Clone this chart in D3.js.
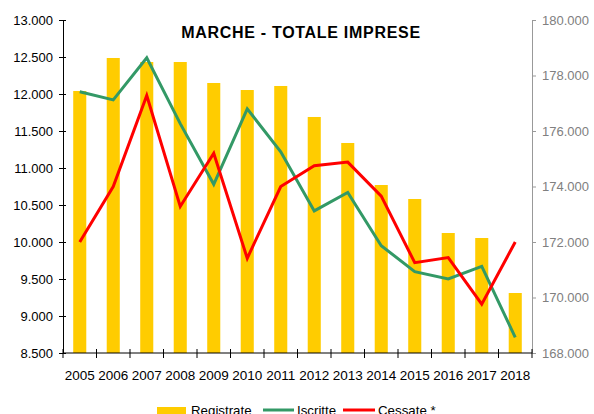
<!DOCTYPE html>
<html>
<head>
<meta charset="utf-8">
<style>
  body { margin: 0; background: #fff; }
  svg { font-family: "Liberation Sans", Arial, sans-serif; }
</style>
</head>
<body>
<svg width="594" height="414"></svg>
<script src="https://d3js.org/d3.v7.min.js"></script>
<script>

var anni = ["2005","2006","2007","2008","2009","2010","2011","2012","2013","2014","2015","2016","2017","2018"];
var registrate = [177441, 178631, 178486, 178486, 177730, 177477, 177622, 176505, 175568, 174054, 173550, 172324, 172144, 170162];
var iscritte = [12030, 11920, 12490, 11600, 10780, 11800, 11220, 10420, 10670, 9950, 9600, 9500, 9670, 8710];
var cessate = [10000, 10750, 11980, 10480, 11200, 9780, 10750, 11030, 11080, 10620, 9720, 9790, 9160, 10000];
var tickSx = [8500, 9000, 9500, 10000, 10500, 11000, 11500, 12000, 12500, 13000];
var tickDx = [168000, 170000, 172000, 174000, 176000, 178000, 180000];

var svg = d3.select("svg");
var mLeft = 63, mRight = 532, mTop = 20, mBottom = 353;

var fmt = d3.format(",.0f");
var it = function(v) { return fmt(v).replace(/,/g, "."); };

var x = d3.scaleBand().domain(anni).range([mLeft, mRight]).paddingInner(0.61).paddingOuter(0.305);
var xb = d3.scaleBand().domain(anni).range([mLeft, mRight]);
var ySx = d3.scaleLinear().domain([8500, 13000]).range([mBottom, mTop]);
var yDx = d3.scaleLinear().domain([168000, 180000]).range([mBottom, mTop]);

// barre registrate (asse destro)
svg.append("g").selectAll("rect")
  .data(registrate)
  .enter().append("rect")
    .attr("x", function(d, i) { return x(anni[i]); })
    .attr("width", x.bandwidth())
    .attr("y", function(d) { return yDx(d); })
    .attr("height", function(d) { return mBottom - yDx(d); })
    .attr("fill", "#ffcc00");

// asse sinistro
var gS = svg.append("g").attr("transform", "translate(" + mLeft + ",0)")
  .call(d3.axisLeft(ySx).tickValues(tickSx).tickFormat(it).tickSize(3).tickPadding(7).tickSizeOuter(0));
gS.selectAll("line").attr("x2", 3).attr("x1", -4).attr("stroke", "#000");
gS.select(".domain").attr("stroke", "#000");
gS.selectAll("text").attr("font-size", 13).attr("fill", "#000").attr("font-family", "Liberation Sans, Arial, sans-serif");

// asse destro
var gD = svg.append("g").attr("transform", "translate(" + mRight + ",0)")
  .call(d3.axisRight(yDx).tickValues(tickDx).tickFormat(it).tickSize(4).tickPadding(6).tickSizeOuter(0));
gD.selectAll("line").attr("stroke", "#999");
gD.select(".domain").attr("stroke", "#999");
gD.selectAll("text").attr("font-size", 13).attr("fill", "#808080").attr("font-family", "Liberation Sans, Arial, sans-serif");

// asse x
var gX = svg.append("g").attr("transform", "translate(0," + mBottom + ")");
gX.append("line").attr("x1", mLeft).attr("x2", mRight).attr("stroke", "#000");
gX.selectAll(".tk").data(anni.concat(["end"]))
  .enter().append("line")
    .attr("x1", function(d, i) { return mLeft + i * xb.step(); })
    .attr("x2", function(d, i) { return mLeft + i * xb.step(); })
    .attr("y1", -4).attr("y2", 5)
    .attr("stroke", "#000");
gX.selectAll("text").data(anni)
  .enter().append("text")
    .attr("x", function(d) { return xb(d) + xb.bandwidth() / 2; })
    .attr("y", 27)
    .attr("text-anchor", "middle")
    .attr("font-size", 13.5)
    .text(function(d) { return d; });

// linee
var line = d3.line()
  .x(function(d, i) { return xb(anni[i]) + xb.bandwidth() / 2; })
  .y(function(d) { return ySx(d); });

svg.append("path").datum(iscritte)
  .attr("d", line).attr("fill", "none").attr("stroke", "#339966").attr("stroke-width", 3);
svg.append("path").datum(cessate)
  .attr("d", line).attr("fill", "none").attr("stroke", "#ff0000").attr("stroke-width", 3);

// titolo
svg.append("text")
  .attr("x", 301).attr("y", 38)
  .attr("text-anchor", "middle")
  .attr("font-size", 16).attr("font-weight", "bold")
  .attr("letter-spacing", 0.7)
  .text("MARCHE - TOTALE IMPRESE");

// legenda
var leg = svg.append("g");
leg.append("rect").attr("x", 157).attr("y", 407).attr("width", 29).attr("height", 7).attr("fill", "#ffcc00");
leg.append("text").attr("x", 191).attr("y", 414.5).attr("font-size", 13.3).text("Registrate");
leg.append("line").attr("x1", 263).attr("x2", 294).attr("y1", 410).attr("y2", 410).attr("stroke", "#339966").attr("stroke-width", 3);
leg.append("text").attr("x", 297).attr("y", 414.5).attr("font-size", 13.3).text("Iscritte");
leg.append("line").attr("x1", 343).attr("x2", 375).attr("y1", 410).attr("y2", 410).attr("stroke", "#ff0000").attr("stroke-width", 3);
leg.append("text").attr("x", 378).attr("y", 414.5).attr("font-size", 13.3).text("Cessate *");

</script>
</body>
</html>
